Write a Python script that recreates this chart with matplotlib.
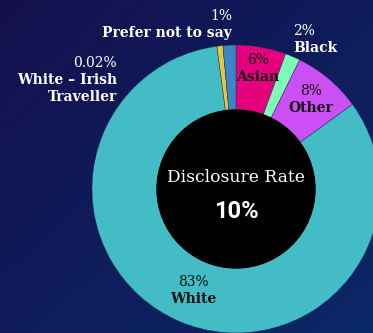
import matplotlib

matplotlib.use("Agg")
import matplotlib.pyplot as plt
import numpy as np
from matplotlib.patches import Circle

# slice order clockwise from 12 o'clock
names = ["Asian", "Black", "Other", "White", "White \u2013 Irish\nTraveller", "Prefer not to say"]
pct_labels = ["6%", "2%", "8%", "83%", "0.02%", "1%"]
# drawn sizes (tiny slices are drawn wider than their share)
sizes = [5.6, 1.7, 7.7, 82.9, 0.67, 1.45]
colors = ["#e5007d", "#7efab6", "#cc4ff5", "#43bcc6", "#e6c63c", "#3b86c6"]
disclosure_rate = "10%"

W, H = 373, 333
CX, CY = 236, 189          # pie centre in pixels (top origin)
R_OUT, R_IN = 144, 79
LINE = 17                  # label line step, px

fig = plt.figure(figsize=(W / 100, H / 100), dpi=100)
ax = fig.add_axes([0, 0, 1, 1])

# background gradient
gx, gy = np.meshgrid(np.linspace(0, 1, 200), np.linspace(0, 1, 200))
t = (gx + gy) / 2
c0 = np.array([0x15, 0x10, 0x4e]) / 255
c1 = np.array([0x0a, 0x28, 0x66]) / 255
grad = c0[None, None, :] * (1 - t[..., None]) + c1[None, None, :] * t[..., None]
ax.imshow(grad, extent=[0, W, 0, H], origin="upper", zorder=0, aspect="auto")


def px(x, y):
    return x, H - y


ax.pie(sizes, colors=colors, startangle=90, counterclock=False,
       center=px(CX, CY), radius=R_OUT,
       wedgeprops=dict(width=R_OUT - R_IN, linewidth=0.3, edgecolor="#1a2a5a"),
       frame=False)
ax.add_patch(Circle(px(CX, CY), R_IN, color="black", zorder=3))

ax.set_xlim(0, W)
ax.set_ylim(0, H)
ax.set_aspect("equal", adjustable="box")
ax.axis("off")

SERIF = "DejaVu Serif"


def label(x, y, pct, name, color, ha="center"):
    ax.text(*px(x, y), pct, ha=ha, va="center", color=color, family=SERIF,
            fontsize=10, fontweight="light", zorder=5)
    for i, line in enumerate(name.split("\n")):
        ax.text(*px(x, y + LINE * (i + 1)), line, ha=ha, va="center", color=color,
                family=SERIF, fontsize=10, fontweight="bold", zorder=5)


# inside labels
label(258, 60, pct_labels[0], names[0], "#111111")
label(311, 91, pct_labels[2], names[2], "#111111")
label(193, 282, pct_labels[3], names[3], "#111111")
# outside labels
label(293, 31, pct_labels[1], names[1], "white", ha="left")
label(232, 16, pct_labels[5], names[5], "white", ha="right")
label(117, 63, pct_labels[4], names[4], "white", ha="right")

ax.text(*px(CX, 177), "Disclosure Rate", ha="center", va="center", color="white",
        family=SERIF, fontsize=12.3, fontweight="light", zorder=5)
ax.text(*px(CX, 211), disclosure_rate, ha="center", va="center", color="white",
        family="Roboto", fontsize=17, fontweight="bold", zorder=5)

fig.savefig("out.png", dpi=100)
